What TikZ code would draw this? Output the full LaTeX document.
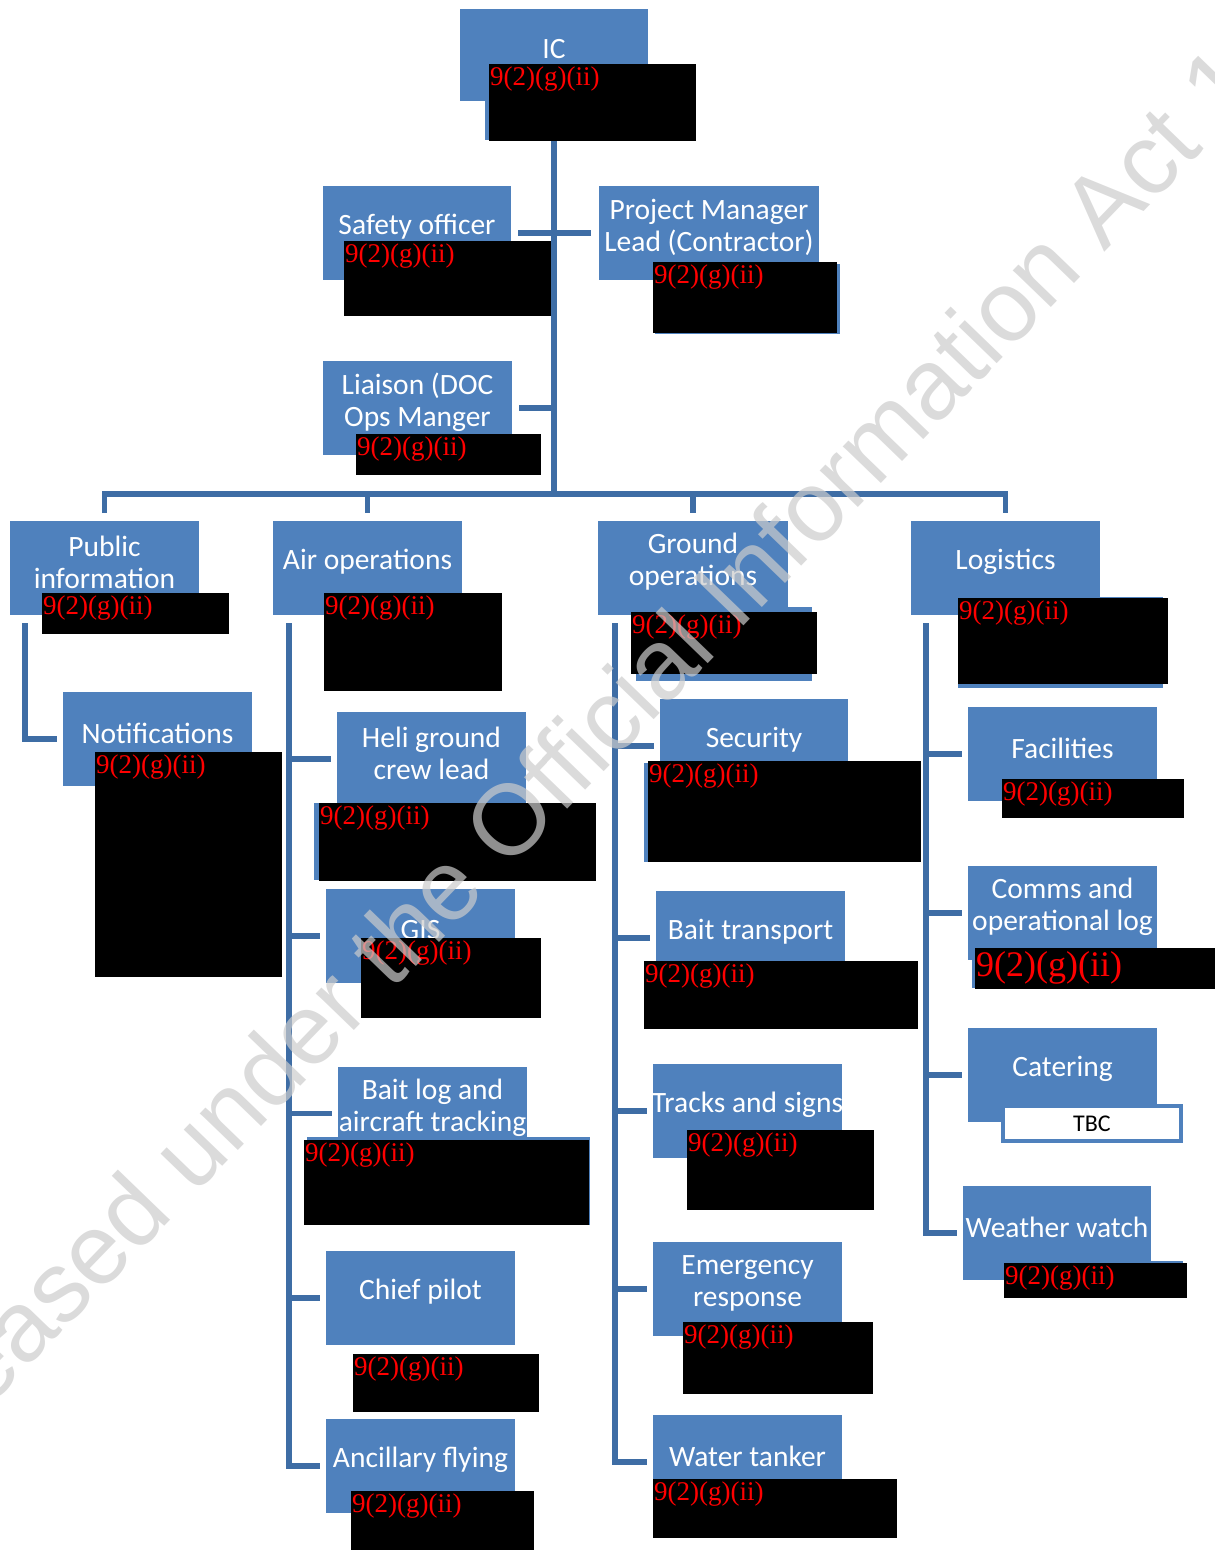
\documentclass[tikz,border=0pt]{standalone}
\usepackage{fontspec}
\setmainfont{Carlito}
\newfontfamily\rolefont{Carlito}
\newfontfamily\redfont{Liberation Serif}
\newfontfamily\stampfont{Liberation Sans}
\definecolor{boxblue}{HTML}{4F81BD}
\definecolor{lineblue}{HTML}{3E6DA5}
\tikzset{
  rolebox/.style={rectangle, fill=boxblue, inner sep=0pt, outer sep=0pt},
  roletext/.style={text=white, inner sep=0pt, align=center, font=\rolefont\fontsize{29.5}{32}\selectfont},
  redbox/.style={rectangle, fill=black, inner sep=0pt, outer sep=0pt},
  redtext/.style={text=red, inner sep=0pt},
  link/.style={draw=lineblue, line width=5.5pt},
  watermark/.style={text=black!20, opacity=0.7, inner sep=0pt, font=\stampfont\fontsize{100}{100}\selectfont}
}
% role box: name, x1, y1, x2, y2, text
\newcommand{\role}[6]{%
  \node[rolebox, minimum width={#4-#2}, minimum height={#5-#3}, anchor=north west] (#1) at (#2,#3) {};
  \node[roletext] (#1t) at ([yshift=6pt]#1.center) {#6};}
% redaction: [size] name, x1, y1, x2, y2
\newcommand{\redact}[6][27]{%
  \node[redbox, minimum width={#5-#3}, minimum height={#6-#4}, anchor=north west] (#2) at (#3,#4) {};
  \node[redtext, font=\redfont\fontsize{#1}{#1}\selectfont, anchor=north west] (#2t) at ([shift={(1pt,-3pt)}]#2.north west) {9(2)(g)(ii)};}

\begin{document}
\begin{tikzpicture}[x=1pt, y=-1pt]
  \useasboundingbox (0,0) rectangle (1215,1550);
  \clip (0,0) rectangle (1215,1550);

  %%%%% TOP %%%%%
  \role{ic}{460}{9}{648}{101}{IC}
  \fill[boxblue] (485,64) rectangle (690,140);
  \redact{icR}{489}{64}{696}{141}

  \role{safety}{323}{186}{511}{280}{Safety officer}
  \redact{safetyR}{344}{241}{555}{316}

  \role{pm}{599}{186}{819}{280}{Project Manager\\Lead (Contractor)}
  \fill[boxblue] (655,264) rectangle (840,334);
  \redact{pmR}{653}{262}{837}{333}

  \role{liaison}{323}{361}{512}{455}{Liaison (DOC\\Ops Manger}
  \redact{liaisonR}{356}{434}{541}{475}

  %%%%% PUBLIC INFORMATION %%%%%
  \role{pubinfo}{10}{521}{199}{615}{Public\\information}
  \redact{pubinfoR}{42}{593}{229}{634}
  \role{notif}{63}{692}{252}{786}{Notifications}
  \redact{notifR}{95}{752}{282}{977}

  %%%%% AIR OPERATIONS %%%%%
  \role{airops}{273}{521}{462}{615}{Air operations}
  \redact{airopsR}{324}{593}{502}{691}
  \role{heli}{337}{712}{526}{806}{Heli ground\\crew lead}
  \fill[boxblue] (314,803) rectangle (590,880);
  \redact{heliR}{319}{803}{596}{881}
  \role{gis}{326}{889}{515}{983}{GIS}
  \redact{gisR}{361}{938}{541}{1018}
  \role{baitlog}{338}{1067}{527}{1160}{Bait log and\\aircraft tracking}
  \fill[boxblue] (307,1137) rectangle (590,1225);
  \redact{baitlogR}{304}{1140}{589}{1225}
  \role{chief}{326}{1251}{515}{1345}{Chief pilot}
  \redact{chiefR}{353}{1354}{539}{1412}
  \role{ancillary}{326}{1419}{515}{1513}{Ancillary flying}
  \redact{ancillaryR}{351}{1491}{534}{1550}

  %%%%% GROUND OPERATIONS %%%%%
  \role{groundops}{598}{521}{788}{615}{Ground\\operations}
  \fill[boxblue] (636,607) rectangle (812,681);
  \redact{groundopsR}{631}{612}{817}{674}
  \role{security}{660}{699}{848}{793}{Security}
  \fill[boxblue] (644,763) rectangle (915,862);
  \redact{securityR}{648}{761}{921}{862}
  \role{baittrans}{656}{891}{845}{985}{Bait transport}
  \redact{baittransR}{644}{961}{918}{1029}
  \role{tracks}{653}{1064}{842}{1158}{Tracks and signs}
  \redact{tracksR}{687}{1130}{874}{1210}
  \role{emergency}{653}{1242}{842}{1336}{Emergency\\response}
  \redact{emergencyR}{683}{1322}{873}{1394}
  \role{water}{653}{1415}{842}{1509}{Water tanker}
  \redact{waterR}{653}{1479}{897}{1538}

  %%%%% LOGISTICS %%%%%
  \role{logistics}{911}{521}{1100}{615}{Logistics}
  \fill[boxblue] (958,597) rectangle (1163,688);
  \redact{logisticsR}{958}{598}{1168}{684}
  \role{facilities}{968}{707}{1157}{801}{Facilities}
  \redact{facilitiesR}{1002}{779}{1184}{818}
  \role{comms}{968}{866}{1157}{960}{Comms and\\operational log}
  \fill[boxblue] (972,948) rectangle (1215,988);
  \redact[36]{commsR}{975}{948}{1215}{989}
  \role{catering}{968}{1028}{1157}{1122}{Catering}
  \node[rectangle, draw=boxblue, line width=4pt, fill=white, minimum width=178, minimum height=35,
    anchor=north west, font=\rolefont\fontsize{24}{24}\selectfont] (tbc) at (1001,1104) {TBC};
  \role{weather}{963}{1186}{1151}{1280}{Weather watch}
  \fill[boxblue] (1010,1261) rectangle (1183,1280);
  \redact{weatherR}{1004}{1263}{1187}{1298}

  %%%%% CONNECTORS %%%%%
  \coordinate (bus) at (554,494);
  \draw[link] (icR.south -| ic.south) -- (bus);
  \draw[link] ([xshift=7pt]safety.east) -- ([xshift=-8pt]pm.west);
  \draw[link] ([xshift=7pt]liaison.east) -- (liaison.east -| bus);
  \draw[link] ([yshift=8pt]pubinfo.north) -- (pubinfo.north |- bus) -- (logistics.north |- bus) -- ([yshift=8pt]logistics.north);
  \draw[link] (airops.north |- bus) -- ([yshift=8pt]airops.north);
  \draw[link] (groundops.north |- bus) -- ([yshift=8pt]groundops.north);

  \coordinate (pubspine) at (25,623);
  \draw[link] (pubspine) |- ([xshift=-6pt]notif.west);

  \coordinate (airspine) at (289,623);
  \draw[link] (airspine) |- ([xshift=-6pt]ancillary.west);
  \foreach \n in {heli,gis,baitlog,chief}
    \draw[link] (airspine |- \n.west) -- ([xshift=-6pt]\n.west);

  \coordinate (groundspine) at (615,623);
  \draw[link] (groundspine) |- ([xshift=-6pt]water.west);
  \foreach \n in {security,baittrans,tracks,emergency}
    \draw[link] (groundspine |- \n.west) -- ([xshift=-6pt]\n.west);

  \coordinate (logspine) at (926,623);
  \draw[link] (logspine) |- ([xshift=-6pt]weather.west);
  \foreach \n in {facilities,comms,catering}
    \draw[link] (logspine |- \n.west) -- ([xshift=-6pt]\n.west);

  %%%%% WATERMARK %%%%%
  \node[watermark, rotate=46, anchor=base west] (stamp) at (-118,1519) {Released under the Official Information Act 1982};
\end{tikzpicture}
\end{document}
